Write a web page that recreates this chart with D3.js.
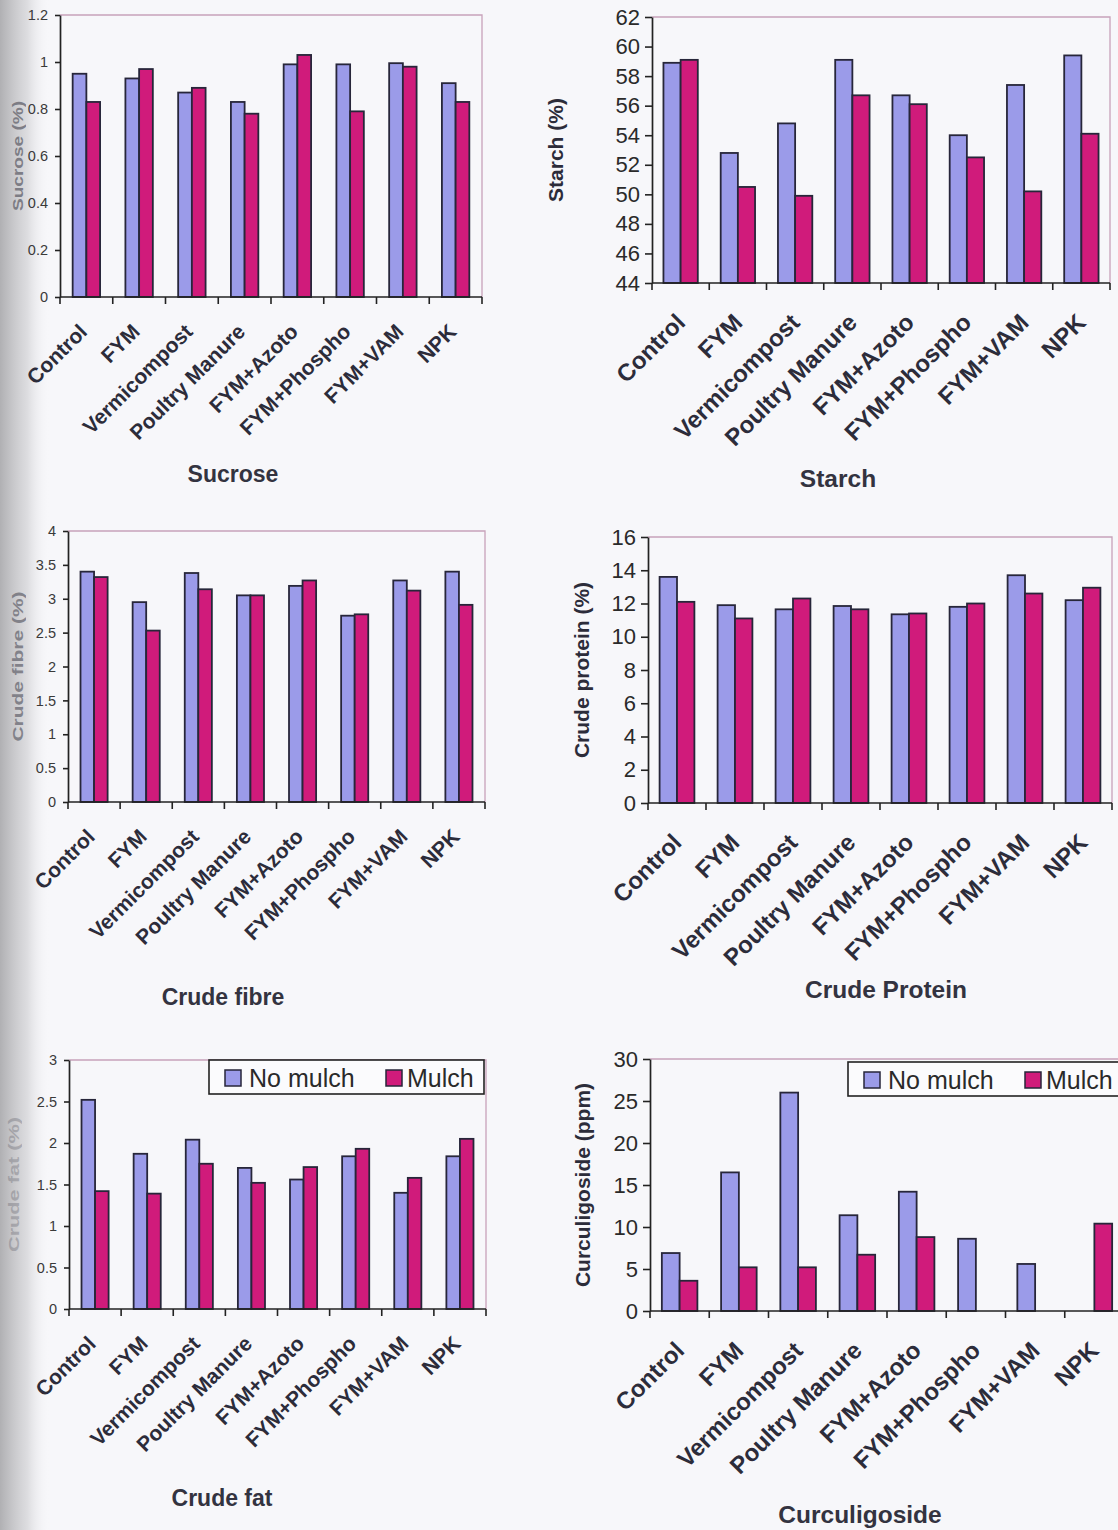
<!DOCTYPE html>
<html>
<head>
<meta charset="utf-8">
<script src="https://cdn.jsdelivr.net/npm/d3@7"></script>
<style>
  body { margin: 0; background: #f7f7fa; }
  svg { display: block; font-family: Arial, "Liberation Sans", sans-serif; }
</style>
</head>
<body>
<div id="chart"></div>
<script>
const categories = ["Control", "FYM", "Vermicompost", "Poultry Manure", "FYM+Azoto", "FYM+Phospho", "FYM+VAM", "NPK"];
const seriesNames = ["No mulch", "Mulch"];

const sucroseNoMulch = [0.95, 0.93, 0.87, 0.83, 0.99, 0.99, 0.995, 0.91];
const sucroseMulch = [0.83, 0.97, 0.89, 0.78, 1.03, 0.79, 0.98, 0.83];
const sucroseTicks = [0, 0.2, 0.4, 0.6, 0.8, 1, 1.2];

const starchNoMulch = [58.9, 52.8, 54.8, 59.1, 56.7, 54.0, 57.4, 59.4];
const starchMulch = [59.1, 50.5, 49.9, 56.7, 56.1, 52.5, 50.2, 54.1];
const starchTicks = [44, 46, 48, 50, 52, 54, 56, 58, 60, 62];

const fibreNoMulch = [3.40, 2.95, 3.38, 3.05, 3.19, 2.75, 3.27, 3.40];
const fibreMulch = [3.32, 2.53, 3.14, 3.05, 3.27, 2.77, 3.12, 2.91];
const fibreTicks = [0, 0.5, 1, 1.5, 2, 2.5, 3, 3.5, 4];

const proteinNoMulch = [13.6, 11.9, 11.65, 11.85, 11.35, 11.8, 13.7, 12.2];
const proteinMulch = [12.1, 11.1, 12.3, 11.65, 11.4, 12.0, 12.6, 12.95];
const proteinTicks = [0, 2, 4, 6, 8, 10, 12, 14, 16];

const fatNoMulch = [2.52, 1.87, 2.04, 1.70, 1.56, 1.84, 1.40, 1.84];
const fatMulch = [1.42, 1.39, 1.75, 1.52, 1.71, 1.93, 1.58, 2.05];
const fatTicks = [0, 0.5, 1, 1.5, 2, 2.5, 3];

const curcNoMulch = [6.9, 16.5, 26.0, 11.4, 14.2, 8.6, 5.6, null];
const curcMulch = [3.6, 5.2, 5.2, 6.7, 8.8, null, null, 10.4];
const curcTicks = [0, 5, 10, 15, 20, 25, 30];

const colors = { "No mulch": "#9b9be9", "Mulch": "#d01b7b" };

const W = 1118, H = 1530;

const svg = d3.select("#chart").append("svg")
    .attr("width", W)
    .attr("height", H);

// scanned page shadow on the left edge
const defs = svg.append("defs");
const grad = defs.append("linearGradient").attr("id", "shadow");
grad.append("stop").attr("offset", "0%").attr("stop-color", "#b0b0b3").attr("stop-opacity", 1);
grad.append("stop").attr("offset", "55%").attr("stop-color", "#d4d4d7").attr("stop-opacity", 0.75);
grad.append("stop").attr("offset", "100%").attr("stop-color", "#f7f7fa").attr("stop-opacity", 0);
svg.append("rect").attr("x", 0).attr("y", 0).attr("width", 50).attr("height", H).attr("fill", "url(#shadow)");

const panels = [
    { title: "Sucrose", yTitle: "Sucrose (%)", a: sucroseNoMulch, b: sucroseMulch, ticks: sucroseTicks,
      x0: 60, x1: 482, yTop: 15, yBot: 297, side: "left", titleX: 233, titleY: 482, yTitleX: 18, yTitleLen: 110, faded: 0.85 },
    { title: "Starch", yTitle: "Starch (%)", a: starchNoMulch, b: starchMulch, ticks: starchTicks,
      x0: 652, x1: 1110, yTop: 17, yBot: 283, side: "right", titleX: 838, titleY: 487, yTitleX: 556 },
    { title: "Crude fibre", yTitle: "Crude fibre (%)", a: fibreNoMulch, b: fibreMulch, ticks: fibreTicks,
      x0: 68, x1: 485, yTop: 531, yBot: 802, side: "left", titleX: 223, titleY: 1005, yTitleX: 18, yTitleLen: 150, faded: 0.8 },
    { title: "Crude Protein", yTitle: "Crude protein (%)", a: proteinNoMulch, b: proteinMulch, ticks: proteinTicks,
      x0: 648, x1: 1112, yTop: 537, yBot: 803, side: "right", titleX: 886, titleY: 998, yTitleX: 582 },
    { title: "Crude fat", yTitle: "Crude fat (%)", a: fatNoMulch, b: fatMulch, ticks: fatTicks,
      x0: 69, x1: 486, yTop: 1060, yBot: 1309, side: "left", titleX: 222, titleY: 1506, yTitleX: 14, yTitleLen: 135, faded: 0.4,
      legend: { x: 209, y: 1060, w: 275, h: 34 } },
    { title: "Curculigoside", yTitle: "Curculigoside (ppm)", a: curcNoMulch, b: curcMulch, ticks: curcTicks,
      x0: 650, x1: 1124, yTop: 1059, yBot: 1311, side: "right", titleX: 860, titleY: 1523, yTitleX: 583,
      legend: { x: 848, y: 1062, w: 290, h: 34 } }
];

panels.forEach(p => {
    const left = p.side === "left";
    const g = svg.append("g");

    const x = d3.scaleBand().domain(categories).range([p.x0, p.x1]);
    const barW = x.bandwidth() * (left ? 0.26 : 0.3);
    const inner = d3.scaleBand().domain(seriesNames).range([0, barW * 2]);
    const y = d3.scaleLinear().domain(d3.extent(p.ticks)).range([p.yBot, p.yTop]);

    // plot area top/right border
    g.append("path")
        .attr("d", `M${p.x0},${p.yTop}H${p.x1}V${p.yBot}`)
        .attr("fill", "none")
        .attr("stroke", "#c8a2bb")
        .attr("stroke-width", 1.3);

    const rows = categories.map((c, i) => ({ cat: c, values: [
        { s: "No mulch", v: p.a[i] }, { s: "Mulch", v: p.b[i] }] }));

    const groups = g.selectAll(".grp")
        .data(rows)
        .enter().append("g")
        .attr("transform", d => `translate(${x(d.cat) + (x.bandwidth() - barW * 2) / 2},0)`);

    groups.selectAll("rect")
        .data(d => d.values.filter(v => v.v != null))
        .enter().append("rect")
        .attr("x", d => inner(d.s))
        .attr("y", d => y(d.v))
        .attr("width", inner.bandwidth())
        .attr("height", d => y(y.domain()[0]) - y(d.v))
        .attr("fill", d => colors[d.s])
        .attr("stroke", "#27263a")
        .attr("stroke-width", 1.8);

    // y axis
    const yAxis = g.append("g")
        .attr("transform", `translate(${p.x0},0)`)
        .call(d3.axisLeft(y).tickValues(p.ticks).tickFormat(d => String(d))
            .tickSize(left ? 5 : 7).tickSizeOuter(0).tickPadding(left ? 7 : 5));
    yAxis.select(".domain").attr("stroke", "#222").attr("stroke-width", 1.7);
    yAxis.selectAll(".tick line").attr("stroke", "#222").attr("stroke-width", 1.6);
    yAxis.selectAll(".tick text")
        .attr("font-size", left ? 14.5 : 22)
        .attr("fill", left ? "#3a3a3a" : "#2a2a2a")
        .attr("font-family", "Arial, 'Liberation Sans', sans-serif");

    // x axis with ticks at band boundaries
    g.append("line")
        .attr("x1", p.x0).attr("x2", p.x1)
        .attr("y1", p.yBot).attr("y2", p.yBot)
        .attr("stroke", "#222").attr("stroke-width", 1.7);
    const bounds = categories.map(c => x(c)).concat([x.range()[1]]);
    g.selectAll(".xt")
        .data(bounds)
        .enter().append("line")
        .attr("x1", d => d).attr("x2", d => d)
        .attr("y1", p.yBot).attr("y2", p.yBot + 7)
        .attr("stroke", "#222").attr("stroke-width", 1.6);

    // rotated category labels
    g.selectAll(".xl")
        .data(categories)
        .enter().append("text")
        .attr("transform", d => `translate(${x(d) + x.bandwidth() / 2 + (left ? 2 : 6)},${p.yBot + (left ? 36 : 41)}) rotate(-45)`)
        .attr("text-anchor", "end")
        .attr("font-size", left ? 21 : 24)
        .attr("font-weight", "bold")
        .attr("fill", "#2c2c3a")
        .text(d => d);

    // chart title
    g.append("text")
        .attr("x", p.titleX)
        .attr("y", p.titleY)
        .attr("text-anchor", "middle")
        .attr("font-size", left ? 23 : 24.5)
        .attr("font-weight", "bold")
        .attr("fill", "#333340")
        .text(p.title);

    // y title
    const yMid = (p.yTop + p.yBot) / 2;
    const yt = g.append("text")
        .attr("transform", `translate(${p.yTitleX},${yMid}) rotate(-90)`)
        .attr("text-anchor", "middle")
        .attr("font-weight", "bold")
        .text(p.yTitle);
    if (p.faded) {
        yt.attr("font-size", 14).attr("fill", "#6f6f78").attr("opacity", p.faded)
          .attr("textLength", p.yTitleLen).attr("lengthAdjust", "spacingAndGlyphs")
          .attr("dy", 5);
    } else {
        yt.attr("font-size", 21).attr("fill", "#2c2c3a").attr("dy", 7);
    }

    // legend
    if (p.legend) {
        const L = p.legend;
        const lg = g.append("g").attr("transform", `translate(${L.x},${L.y})`);
        lg.append("rect")
            .attr("width", L.w).attr("height", L.h)
            .attr("fill", "#fbfbfd")
            .attr("stroke", "#222").attr("stroke-width", 1.6);
        const offs = [[16, 40], [177, 198]];
        seriesNames.forEach((s, i) => {
            lg.append("rect")
                .attr("x", offs[i][0]).attr("y", 10)
                .attr("width", 16).attr("height", 16)
                .attr("fill", colors[s])
                .attr("stroke", "#27263a").attr("stroke-width", 1.5);
            lg.append("text")
                .attr("x", offs[i][1]).attr("y", 27)
                .attr("font-size", 25)
                .attr("fill", "#2a2a2a")
                .text(s);
        });
    }
});
</script>
</body>
</html>
